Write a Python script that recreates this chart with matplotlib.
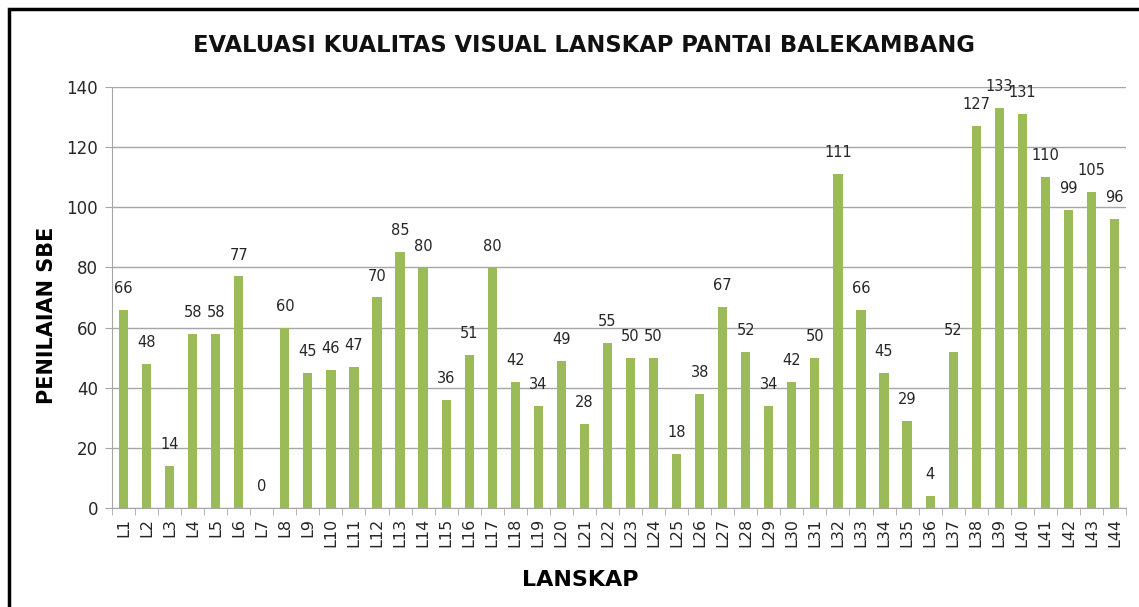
import matplotlib
matplotlib.use("Agg")
import matplotlib.pyplot as plt
from matplotlib.patches import Rectangle

labels = [f"L{i}" for i in range(1, 45)]
scores = [66, 48, 14, 58, 58, 77, 0, 60, 45, 46, 47, 70, 85, 80, 36, 51, 80, 42,
          34, 49, 28, 55, 50, 50, 18, 38, 67, 52, 34, 42, 50, 111, 66, 45, 29, 4,
          52, 127, 133, 131, 110, 99, 105, 96]
y_ticks = [0, 20, 40, 60, 80, 100, 120, 140]

BAR_COLOR = "#9BBB59"
GRID_COLOR = "#A6A6A6"
TEXT_COLOR = "#262626"

plt.rcParams["font.family"] = ["DejaVu Sans"]

fig = plt.figure(figsize=(11.39, 6.07), dpi=100)
ax = fig.add_axes([0.0983, 0.1631, 0.8903, 0.6936])

x = list(range(len(labels)))
ax.bar(x, scores, width=0.4, color=BAR_COLOR, zorder=3)
for xi, v in zip(x, scores):
    ax.annotate(str(v), (xi, v), xytext=(0, 10), textcoords="offset points",
                ha="center", va="bottom", fontsize=10.5, color=TEXT_COLOR)

ax.set_xlim(-0.5, len(labels) - 0.5)
ax.set_ylim(0, 140)
ax.set_yticks(y_ticks)
ax.yaxis.grid(True, color=GRID_COLOR, linewidth=1)
ax.set_axisbelow(True)

ax.set_xticks(x)
ax.set_xticklabels(labels, rotation=90, fontsize=11.5, color=TEXT_COLOR)
ax.tick_params(axis="x", length=0, pad=7)
ax.set_xticks([i - 0.5 for i in range(len(labels) + 1)], minor=True)
ax.tick_params(axis="x", which="minor", length=5, color=GRID_COLOR)
ax.tick_params(axis="y", length=5, color=GRID_COLOR, labelsize=12,
               labelcolor=TEXT_COLOR, pad=5)

for side in ("top", "right"):
    ax.spines[side].set_visible(False)
for side in ("left", "bottom"):
    ax.spines[side].set_color(GRID_COLOR)

fig.text(47 / 1139, 1 - 315 / 607, "PENILAIAN SBE", rotation=90, ha="center",
         va="center", fontsize=15, fontweight="bold", color="black")
fig.text(580 / 1139, 1 - 580 / 607, "LANSKAP", ha="center", va="center",
         fontsize=16, fontweight="bold", color="black")
fig.text(584 / 1139, 1 - 45 / 607,
         "EVALUASI KUALITAS VISUAL LANSKAP PANTAI BALEKAMBANG",
         ha="center", va="center", fontsize=16.3, fontweight="bold", color="#111111")

# frame round the chart (only left and top edges fall inside the image)
fig.patches.append(Rectangle((9 / 1139, -0.1), 1.2, 1.1 - 9 / 607,
                             transform=fig.transFigure, fill=False,
                             edgecolor="black", linewidth=2.5))

fig.savefig("out.png", dpi=100)
